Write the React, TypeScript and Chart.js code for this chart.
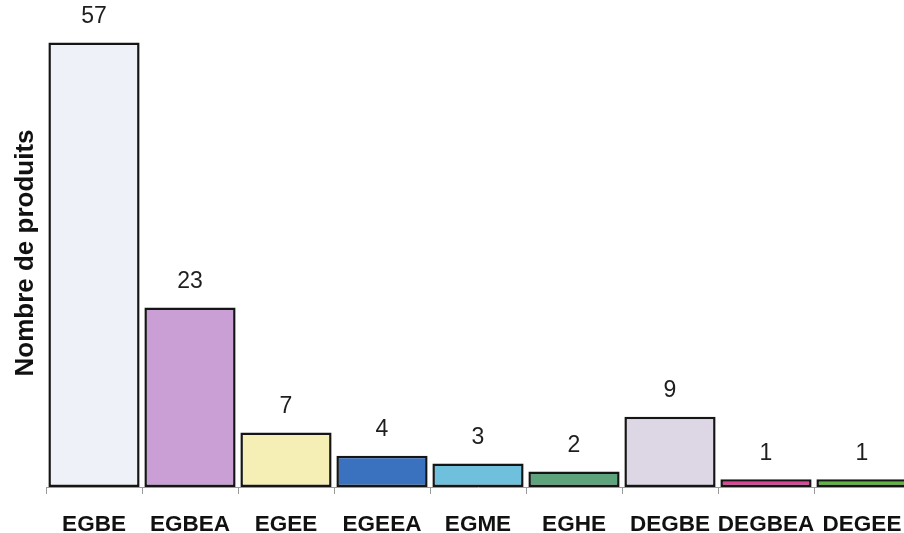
import React, { useEffect, useRef } from "react";
import { Chart, registerables } from "chart.js";

Chart.register(...registerables);

const categories = ["EGBE", "EGBEA", "EGEE", "EGEEA", "EGME", "EGHE", "DEGBE", "DEGBEA", "DEGEE"];
const values = [57, 23, 7, 4, 3, 2, 9, 1, 1];
const barColors = ["#eef1f7", "#c99fd6", "#f5efb6", "#3a72c0", "#6ec0dc", "#5da47c", "#ddd6e4", "#e0449a", "#5cb83c"];
const yTitle = "Nombre de produits";

const FONT = "'Liberation Sans', Arial, Helvetica, sans-serif";

const valueLabels = {
  id: "valueLabels",
  afterDatasetsDraw(chart: any) {
    const ctx = chart.ctx;
    const meta = chart.getDatasetMeta(0);
    ctx.save();
    ctx.font = `23px ${FONT}`;
    ctx.fillStyle = "#1e1e1e";
    ctx.textAlign = "center";
    ctx.textBaseline = "middle";
    meta.data.forEach((bar: any, i: number) => {
      ctx.fillText(String(chart.data.datasets[0].data[i]), bar.x, bar.y - 26);
    });
    ctx.restore();
  },
};

export default function App() {
  const ref = useRef<HTMLCanvasElement>(null);
  useEffect(() => {
    if (!ref.current) return;
    const chart = new Chart(ref.current, {
      type: "bar",
      data: {
        labels: categories,
        datasets: [
          {
            data: values,
            backgroundColor: barColors,
            borderColor: "#151515",
            borderWidth: 2.5,
            borderSkipped: false,
            barPercentage: 0.95,
            categoryPercentage: 1,
          },
        ],
      },
      options: {
        responsive: false,
        animation: false,
        layout: { padding: { top: 19, right: 2, left: 0, bottom: 0 } },
        plugins: { legend: { display: false }, tooltip: { enabled: false } },
        scales: {
          x: {
            offset: true,
            afterFit(scale: any) {
              scale.height = 46;
              scale.paddingLeft = 0;
              scale.paddingRight = 0;
            },
            grid: {
              offset: true,
              drawOnChartArea: false,
              drawTicks: true,
              tickLength: 7,
              color: "#9a9a9a",
              lineWidth: 1,
            },
            border: { display: true, color: "#9a9a9a", width: 1 },
            ticks: {
              padding: 17,
              color: "#111",
              font: { family: FONT, size: 22.5, weight: "bold" },
              maxRotation: 0,
              autoSkip: false,
            },
          },
          y: {
            min: 0,
            max: 60,
            afterFit(scale: any) {
              scale.width = 46;
            },
            grid: { display: false },
            border: { display: false },
            ticks: { display: false },
            title: {
              display: true,
              text: yTitle,
              color: "#111",
              padding: { top: 10, bottom: 4 },
              font: { family: FONT, size: 26, weight: "bold" },
            },
          },
        },
      },
      plugins: [valueLabels],
    });
    return () => chart.destroy();
  }, []);
  return (
    <div
      style={{
        position: "fixed",
        left: 0,
        top: 0,
        width: 904,
        height: 533,
        overflow: "hidden",
        background: "#fff",
      }}
    >
      <canvas ref={ref} width={912} height={533} style={{ display: "block" }} />
    </div>
  );
}
